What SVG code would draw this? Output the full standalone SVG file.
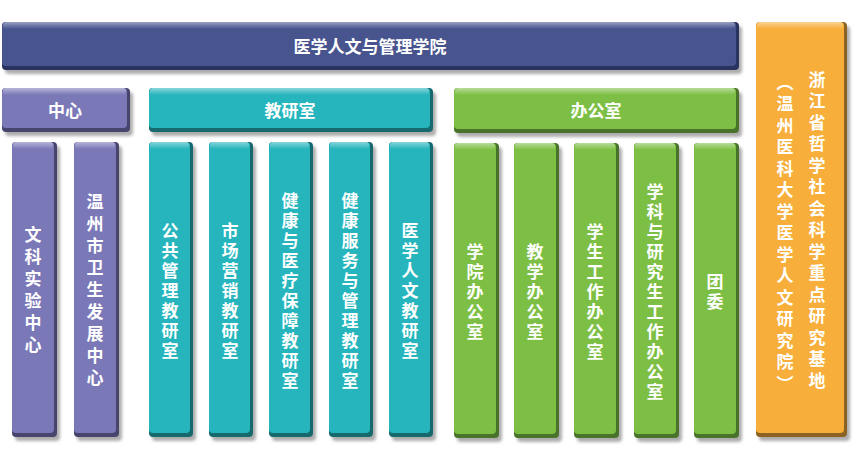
<svg xmlns="http://www.w3.org/2000/svg" width="856" height="458" viewBox="0 0 856 458">
<defs>
<filter id="sh" x="-10%" y="-10%" width="130%" height="130%">
<feDropShadow dx="3" dy="4" stdDeviation="1.5" flood-color="#777" flood-opacity="0.6"/>
</filter>
<linearGradient id="hl" x1="0" y1="0" x2="0" y2="1">
<stop offset="0" stop-color="#fff" stop-opacity="0.45"/>
<stop offset="1" stop-color="#fff" stop-opacity="0"/>
</linearGradient>
</defs>
<style>
.base{filter:url(#sh)}
.hl{fill:url(#hl)}
.blue .base{fill:#2B3360}.blue .face{fill:#47548E}
.purple .base{fill:#46446E}.purple .face{fill:#7B78B8}
.teal .base{fill:#186A6E}.teal .face{fill:#26B5BD}
.green .base{fill:#4A7229}.green .face{fill:#7DBF45}
.orange .base{fill:#8C6224}.orange .face{fill:#F7AE3A}
text{font-family:"Noto Sans CJK SC","Noto Sans",sans-serif;font-weight:bold;font-size:17px;fill:#fff;text-anchor:middle}
.h{dominant-baseline:central}
.v{writing-mode:vertical-rl;letter-spacing:3px}
.v5{writing-mode:vertical-rl;letter-spacing:5px}
.v4{writing-mode:vertical-rl;letter-spacing:4.5px}
</style>
<g id="connectors"/>
<g id="n-college" class="blue">
<rect class="base" x="2" y="22" width="737" height="48" rx="4"/>
<rect class="face" x="2" y="22" width="734" height="44" rx="4"/>
<rect class="hl" x="3" y="22" width="732" height="7" rx="3"/>
<text class="h" x="370" y="45">医学人文与管理学院</text>
</g>
<g id="n-center" class="purple">
<rect class="base" x="2" y="88" width="128" height="44" rx="4"/>
<rect class="face" x="2" y="88" width="125" height="40" rx="4"/>
<rect class="hl" x="3" y="88" width="123" height="7" rx="3"/>
<text class="h" x="65" y="109">中心</text>
</g>
<g id="n-teach" class="teal">
<rect class="base" x="149" y="88" width="284" height="44" rx="4"/>
<rect class="face" x="149" y="88" width="281" height="40" rx="4"/>
<rect class="hl" x="150" y="88" width="279" height="7" rx="3"/>
<text class="h" x="290" y="109">教研室</text>
</g>
<g id="n-office" class="green">
<rect class="base" x="454" y="88" width="285" height="45" rx="4"/>
<rect class="face" x="454" y="88" width="282" height="41" rx="4"/>
<rect class="hl" x="455" y="88" width="280" height="7" rx="3"/>
<text class="h" x="596" y="109">办公室</text>
</g>
<g id="n-c1" class="purple">
<rect class="base" x="12" y="142" width="45" height="295" rx="4"/>
<rect class="face" x="12" y="142" width="42" height="291" rx="4"/>
<rect class="hl" x="13" y="142" width="40" height="7" rx="3"/>
<text class="v5" x="33" y="292">文科实验中心</text>
</g>
<g id="n-c2" class="purple">
<rect class="base" x="74" y="142" width="45" height="295" rx="4"/>
<rect class="face" x="74" y="142" width="42" height="291" rx="4"/>
<rect class="hl" x="75" y="142" width="40" height="7" rx="3"/>
<text class="v5" x="95" y="292">温州市卫生发展中心</text>
</g>
<g id="n-t1" class="teal">
<rect class="base" x="149" y="142" width="44" height="295" rx="4"/>
<rect class="face" x="149" y="142" width="41" height="291" rx="4"/>
<rect class="hl" x="150" y="142" width="39" height="7" rx="3"/>
<text class="v" x="170" y="292">公共管理教研室</text>
</g>
<g id="n-t2" class="teal">
<rect class="base" x="209" y="142" width="44" height="295" rx="4"/>
<rect class="face" x="209" y="142" width="41" height="291" rx="4"/>
<rect class="hl" x="210" y="142" width="39" height="7" rx="3"/>
<text class="v" x="230" y="292">市场营销教研室</text>
</g>
<g id="n-t3" class="teal">
<rect class="base" x="269" y="142" width="44" height="295" rx="4"/>
<rect class="face" x="269" y="142" width="41" height="291" rx="4"/>
<rect class="hl" x="270" y="142" width="39" height="7" rx="3"/>
<text class="v" x="290" y="292">健康与医疗保障教研室</text>
</g>
<g id="n-t4" class="teal">
<rect class="base" x="329" y="142" width="44" height="295" rx="4"/>
<rect class="face" x="329" y="142" width="41" height="291" rx="4"/>
<rect class="hl" x="330" y="142" width="39" height="7" rx="3"/>
<text class="v" x="350" y="292">健康服务与管理教研室</text>
</g>
<g id="n-t5" class="teal">
<rect class="base" x="389" y="142" width="44" height="295" rx="4"/>
<rect class="face" x="389" y="142" width="41" height="291" rx="4"/>
<rect class="hl" x="390" y="142" width="39" height="7" rx="3"/>
<text class="v" x="410" y="292">医学人文教研室</text>
</g>
<g id="n-o1" class="green">
<rect class="base" x="454" y="143" width="45" height="295" rx="4"/>
<rect class="face" x="454" y="143" width="42" height="291" rx="4"/>
<rect class="hl" x="455" y="143" width="40" height="7" rx="3"/>
<text class="v" x="475" y="293">学院办公室</text>
</g>
<g id="n-o2" class="green">
<rect class="base" x="514" y="143" width="45" height="295" rx="4"/>
<rect class="face" x="514" y="143" width="42" height="291" rx="4"/>
<rect class="hl" x="515" y="143" width="40" height="7" rx="3"/>
<text class="v" x="535" y="293">教学办公室</text>
</g>
<g id="n-o3" class="green">
<rect class="base" x="574" y="143" width="45" height="295" rx="4"/>
<rect class="face" x="574" y="143" width="42" height="291" rx="4"/>
<rect class="hl" x="575" y="143" width="40" height="7" rx="3"/>
<text class="v" x="595" y="293">学生工作办公室</text>
</g>
<g id="n-o4" class="green">
<rect class="base" x="634" y="143" width="45" height="295" rx="4"/>
<rect class="face" x="634" y="143" width="42" height="291" rx="4"/>
<rect class="hl" x="635" y="143" width="40" height="7" rx="3"/>
<text class="v" x="655" y="293">学科与研究生工作办公室</text>
</g>
<g id="n-o5" class="green">
<rect class="base" x="694" y="143" width="45" height="295" rx="4"/>
<rect class="face" x="694" y="143" width="42" height="291" rx="4"/>
<rect class="hl" x="695" y="143" width="40" height="7" rx="3"/>
<text class="v" x="715" y="293">团委</text>
</g>
<g id="n-base" class="orange">
<rect class="base" x="756" y="22" width="91" height="415" rx="4"/>
<rect class="face" x="756" y="22" width="88" height="411" rx="4"/>
<rect class="hl" x="757" y="22" width="86" height="7" rx="3"/>
<text class="v4" x="817" y="232">浙江省哲学社会科学重点研究基地</text>
<text class="v4" x="785" y="235">（温州医科大学医学人文研究院）</text>
</g>
</svg>
